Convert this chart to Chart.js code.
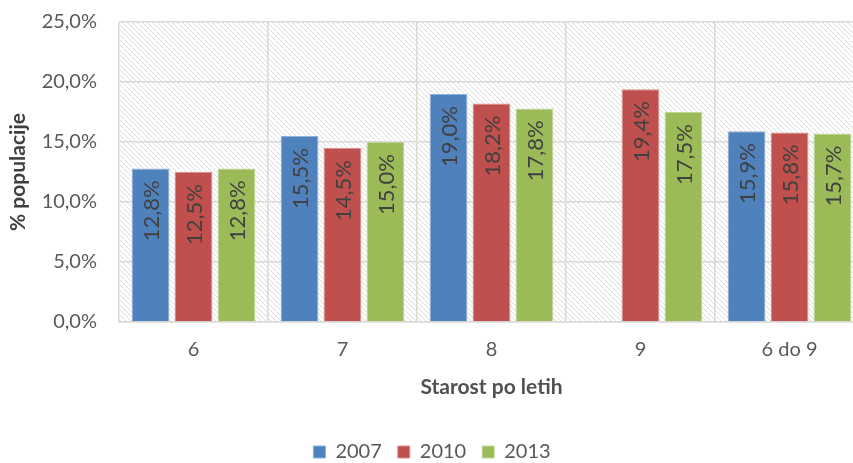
<!DOCTYPE html>
<html>
<head>
<meta charset="utf-8">
<script src="https://cdn.jsdelivr.net/npm/chart.js@4"></script>
<style>
html,body{margin:0;padding:0;background:#fff;overflow:hidden;}
</style>
</head>
<body>
<canvas id="miGrafico" width="880" height="463"></canvas>
<script>
// DATOS
let kategorije = ['6', '7', '8', '9', '6 do 9'];
let leto2007 = [12.8, 15.5, 19.0, null, 15.9];
let leto2010 = [12.5, 14.5, 18.2, 19.4, 15.8];
let leto2013 = [12.8, 15.0, 17.8, 17.5, 15.7];
let yTicks = [0, 5, 10, 15, 20, 25];

let pisava = 'Lato, "Open Sans", sans-serif';

function odstotek(v){
return v.toFixed(1).replace('.', ',') + '%';
}

// VZOREC ZA OZADJE
let vz = document.createElement('canvas');
vz.width = 5; vz.height = 5;
let vctx = vz.getContext('2d');
vctx.fillStyle = '#ffffff';
vctx.fillRect(0, 0, 5, 5);
vctx.strokeStyle = '#dcdcdc';
vctx.lineWidth = 1;
vctx.beginPath();
vctx.moveTo(-1, -1); vctx.lineTo(6, 6);
vctx.moveTo(-1, 4); vctx.lineTo(1, 6);
vctx.moveTo(4, -1); vctx.lineTo(6, 1);
vctx.stroke();

let ozadje = {
id:'ozadje',
beforeDraw(chart){
let a = chart.chartArea;
let c = chart.ctx;
c.save();
c.fillStyle = c.createPattern(vz, 'repeat');
c.fillRect(a.left, a.top, a.right - a.left, a.bottom - a.top);
c.restore();
}
};

let oznake = {
id:'oznake',
afterDatasetsDraw(chart){
let c = chart.ctx;
chart.data.datasets.forEach((ds, i) => {
let meta = chart.getDatasetMeta(i);
meta.data.forEach((el, j) => {
let v = ds.data[j];
if(v == null) return;
c.save();
c.translate(el.x, el.y + 12);
c.rotate(-Math.PI / 2);
c.fillStyle = '#404040';
c.font = '22px ' + pisava;
c.textAlign = 'right';
c.textBaseline = 'middle';
c.fillText(odstotek(v), 0, 1);
c.restore();
});
});
}
};

let ctx = document.getElementById('miGrafico').getContext('2d');

let grafico = new Chart(ctx, {
type:'bar',
data:{
labels:kategorije,
datasets:[
{label:'2007', data:leto2007, backgroundColor:'#4f81bd', borderColor:'#8fb0da', borderWidth:1},
{label:'2010', data:leto2010, backgroundColor:'#c0504d', borderColor:'#d98e8c', borderWidth:1},
{label:'2013', data:leto2013, backgroundColor:'#9bbb59', borderColor:'#c2d89a', borderWidth:1}
]
},
options:{
responsive:false,
animation:false,
devicePixelRatio:1,
categoryPercentage:0.865,
barPercentage:0.88,
layout:{padding:{left:0, right:16, top:22, bottom:-9}},
plugins:{
legend:{
display:true,
position:'bottom',
labels:{
boxWidth:12,
boxHeight:12,
padding:16,
color:'#595959',
font:{family:pisava, size:20}
}
},
tooltip:{enabled:false}
},
scales:{
x:{
grid:{color:'#d9d9d9', lineWidth:1.5, offset:true, drawTicks:false},
border:{color:'#d9d9d9', width:1.5},
ticks:{color:'#595959', padding:16, font:{family:pisava, size:20}},
title:{display:true, text:'Starost po letih', color:'#505050', font:{family:pisava, size:21, weight:'bold'}, padding:{top:0, bottom:26}},
afterFit(scale){ scale.height = 104; scale.paddingLeft = 0; scale.paddingRight = 0; }
},
y:{
min:0,
max:25,
grid:{color:'#d9d9d9', lineWidth:1.5, drawTicks:false},
border:{display:false},
afterBuildTicks(scale){ scale.ticks = yTicks.map(v => ({value:v})); },
ticks:{color:'#595959', padding:22, font:{family:pisava, size:20}, callback:(v) => odstotek(v)},
title:{display:true, text:'% populacije', color:'#404040', font:{family:pisava, size:21, weight:'bold'}, padding:{top:6, bottom:0}},
afterFit(scale){ scale.width = 119; scale.paddingTop = 0; scale.paddingBottom = 0; }
}
}
},
plugins:[ozadje, oznake]
});
</script>
</body>
</html>
